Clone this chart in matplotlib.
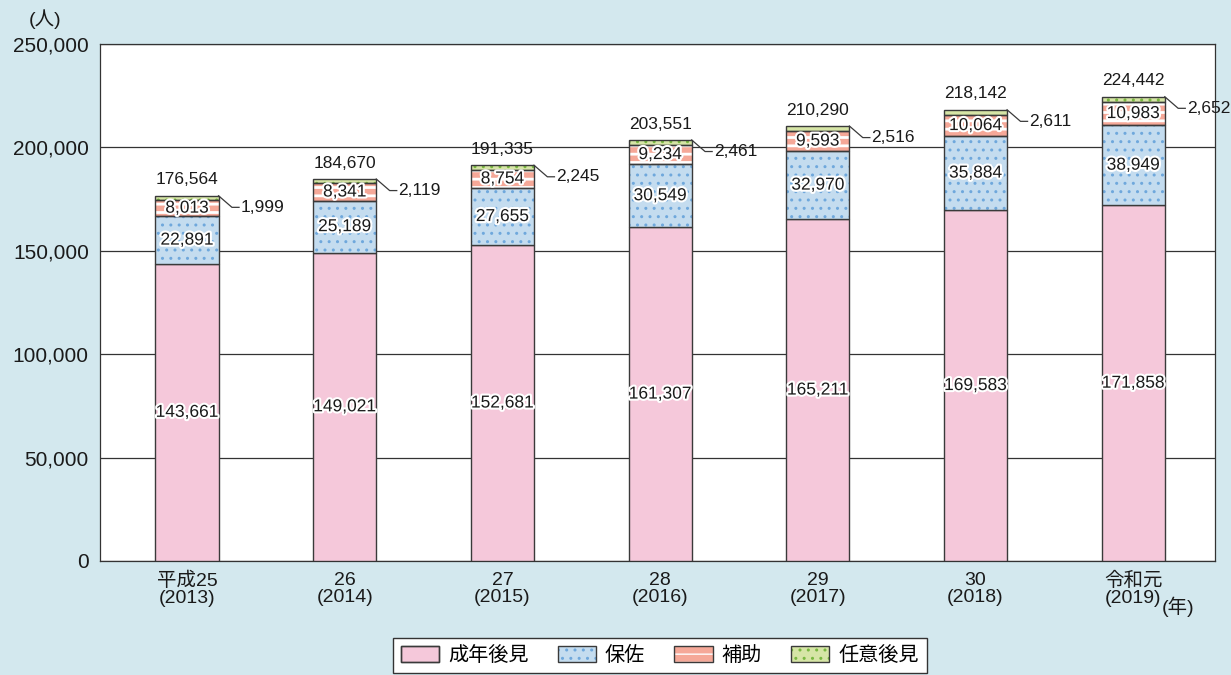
import matplotlib.pyplot as plt
import matplotlib.patheffects as pe
from matplotlib.patches import Patch
import numpy as np

plt.rcParams['font.family'] = ['Liberation Sans', 'Noto Sans CJK JP']
plt.rcParams['hatch.linewidth'] = 1.0

years = ['平成25\n(2013)', '26\n(2014)', '27\n(2015)', '28\n(2016)',
         '29\n(2017)', '30\n(2018)', '令和元\n(2019)']
seinen = [143661, 149021, 152681, 161307, 165211, 169583, 171858]
hosa = [22891, 25189, 27655, 30549, 32970, 35884, 38949]
hojo = [8013, 8341, 8754, 9234, 9593, 10064, 10983]
nini = [1999, 2119, 2245, 2461, 2516, 2611, 2652]
totals = [176564, 184670, 191335, 203551, 210290, 218142, 224442]
names = ['成年後見', '保佐', '補助', '任意後見']

bg = '#d3e8ee'
edge = '#3a3a3a'
txt = '#1a1a1a'
fills = ['#f5c8da', '#c4dcef', '#f5a898', '#d6e5a6']
hatch_cols = [None, '#6fa8dc', 'white', '#79b840']
hatches = [None, '..', '--', '..']
hatch_lw = [1.0, 1.0, 2.0, 1.0]

fig = plt.figure(figsize=(12.31, 6.75), dpi=100, facecolor=bg)
ax = fig.add_axes([0.0812, 0.169, 0.906, 0.766])
ax.set_facecolor('white')

x = np.arange(len(years))
w = 0.40
series = [seinen, hosa, hojo, nini]
bottom = np.zeros(len(years))
for vals, fc, hc, h, hl in zip(series, fills, hatch_cols, hatches, hatch_lw):
    vals = np.array(vals)
    if h is None:
        ax.bar(x, vals, w, bottom=bottom, color=fc, edgecolor=edge, linewidth=1.0, zorder=3)
    else:
        with plt.rc_context({'hatch.linewidth': hl}):
            ax.bar(x, vals, w, bottom=bottom, color=fc, edgecolor=hc, linewidth=0, hatch=h, zorder=3)
        ax.bar(x, vals, w, bottom=bottom, fill=False, edgecolor=edge, linewidth=1.0, zorder=4)
    bottom += vals

stroke = [pe.withStroke(linewidth=3, foreground='white')]
fs = 12.5
for i in x:
    b = 0
    for k, vals in enumerate(series[:3]):
        ax.text(i, b + vals[i] / 2, f'{vals[i]:,}', ha='center', va='center',
                fontsize=fs, color=txt, path_effects=stroke, zorder=6)
        b += vals[i]
    ax.annotate(f'{totals[i]:,}', (i, totals[i]), xytext=(0, 6), textcoords='offset points',
                ha='center', va='bottom', fontsize=fs, color=txt, zorder=6)
    # leader line for 任意後見
    top = totals[i]
    ax.plot([i + w / 2, i + w / 2 + 0.085, i + w / 2 + 0.13],
            [top, top - 5600, top - 5600], color=edge, lw=0.9, zorder=6, clip_on=False)
    ax.text(i + w / 2 + 0.14, top - 5600, f'{nini[i]:,}', ha='left', va='center',
            fontsize=fs, color=txt, zorder=6)

ax.set_xlim(-0.552, 6.52)
ax.set_ylim(0, 250000)
ax.set_yticks(np.arange(0, 250001, 50000))
ax.set_yticklabels([f'{v:,}' for v in range(0, 250001, 50000)], fontsize=15, color=txt)
ax.set_xticks(x)
ax.set_xticklabels(years, fontsize=14, color=txt, linespacing=1.0)
ax.tick_params(length=0, pad=8)
ax.tick_params(axis='x', pad=8)
ax.yaxis.grid(True, color='#333333', linewidth=0.9, zorder=0)
ax.set_axisbelow(True)
for s in ax.spines.values():
    s.set_color('#333333')
    s.set_linewidth(0.9)

fig.text(0.037, 0.972, '(人)', ha='center', va='center', fontsize=14, color=txt)
fig.text(0.944, 0.101, '(年)', ha='left', va='center', fontsize=14, color=txt)

handles = []
for fc, hc, h, hl in zip(fills, hatch_cols, hatches, hatch_lw):
    outline = Patch(facecolor='none', edgecolor=edge, linewidth=1.0)
    if h is None:
        handles.append((Patch(facecolor=fc, edgecolor=edge, linewidth=1.0), outline))
    else:
        with plt.rc_context({'hatch.linewidth': hl}):
            p = Patch(facecolor=fc, edgecolor=hc, hatch=h, linewidth=0)
        handles.append((p, outline))
leg = fig.legend(handles=handles, labels=names, loc='upper center', bbox_to_anchor=(0.536, 0.0548),
                 ncol=4, fontsize=14.5, frameon=True, fancybox=False, edgecolor='#333333',
                 handlelength=1.9, handleheight=0.85, columnspacing=1.45, handletextpad=0.45,
                 borderpad=0.4, borderaxespad=0, framealpha=1)
leg.get_frame().set_linewidth(1.0)

fig.savefig('out.png', dpi=100, facecolor=bg)
